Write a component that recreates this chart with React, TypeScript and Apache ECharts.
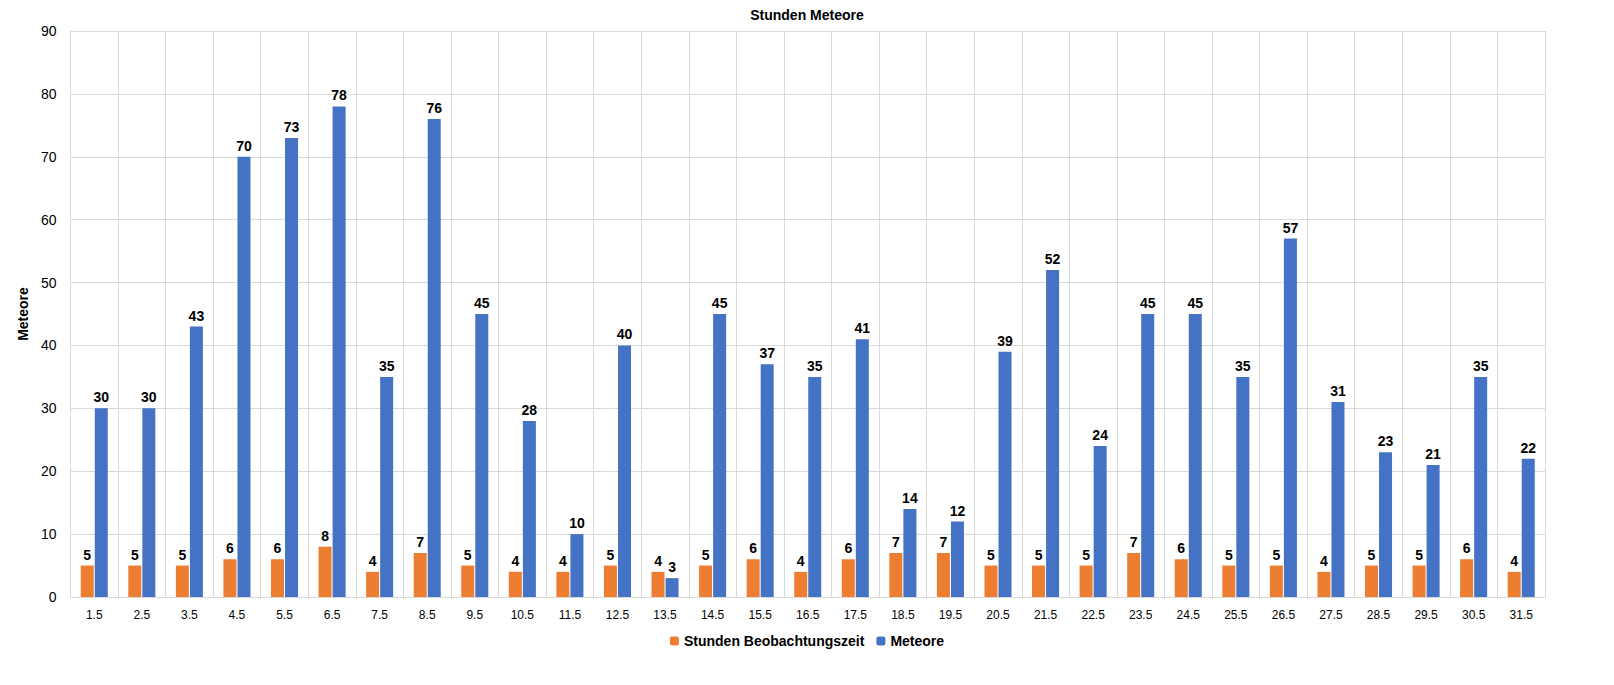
import { useEffect, useRef } from 'react';
import * as echarts from 'echarts';

const days = ['1.5','2.5','3.5','4.5','5.5','6.5','7.5','8.5','9.5','10.5','11.5','12.5','13.5','14.5','15.5','16.5','17.5','18.5','19.5','20.5','21.5','22.5','23.5','24.5','25.5','26.5','27.5','28.5','29.5','30.5','31.5'];
const hours = [5,5,5,6,6,8,4,7,5,4,4,5,4,5,6,4,6,7,7,5,5,5,7,6,5,5,4,5,5,6,4];
const meteors = [30,30,43,70,73,78,35,76,45,28,10,40,3,45,37,35,41,14,12,39,52,24,45,45,35,57,31,23,21,35,22];

const FONT = '"Liberation Sans", Arial, sans-serif';
const label = { show: true, position: 'top', color: '#000', fontWeight: 'bold', fontSize: 14, fontFamily: FONT, distance: 4 };

export default function App() {
  const ref = useRef<HTMLDivElement>(null);

  useEffect(() => {
    if (!ref.current) return;
    const chart = echarts.init(ref.current, null, { renderer: 'svg' });
    chart.setOption({
      animation: false,
      textStyle: { fontFamily: FONT },
      title: {
        text: 'Stunden Meteore', left: 'center', top: -5,
        textStyle: { fontSize: 14, fontWeight: 'bold', color: '#000', fontFamily: FONT },
      },
      legend: {
        bottom: 24, itemWidth: 9, itemHeight: 9, itemGap: 12,
        textStyle: { fontSize: 14, fontWeight: 'bold', color: '#000', fontFamily: FONT },
        data: ['Stunden Beobachtungszeit', 'Meteore'],
      },
      grid: { left: 49, right: 61, top: 23, bottom: 80 },
      xAxis: {
        type: 'category', data: days,
        axisLine: { lineStyle: { color: '#d9d9d9' } },
        axisTick: { show: false },
        splitLine: { show: true, lineStyle: { color: '#d9d9d9' } },
        axisLabel: { color: '#000', fontSize: 12, margin: 12, interval: 0 },
      },
      yAxis: {
        type: 'value', min: 0, max: 90, interval: 10,
        name: 'Meteore', nameLocation: 'middle', nameGap: 36,
        nameTextStyle: { fontSize: 14, fontWeight: 'bold', color: '#000' },
        axisLine: { show: true, lineStyle: { color: '#d9d9d9' } },
        splitLine: { lineStyle: { color: '#d9d9d9' } },
        axisLabel: { color: '#000', fontSize: 14, margin: 14 },
      },
      series: [
        { name: 'Stunden Beobachtungszeit', type: 'bar', data: hours, barWidth: 13, barGap: '8%', itemStyle: { color: '#ED7D31' }, label },
        { name: 'Meteore', type: 'bar', data: meteors, barWidth: 13, itemStyle: { color: '#4472C4' }, label },
      ],
    });
    return () => chart.dispose();
  }, []);

  return <div ref={ref} style={{ width: 1598, height: 669 }} />;
}
